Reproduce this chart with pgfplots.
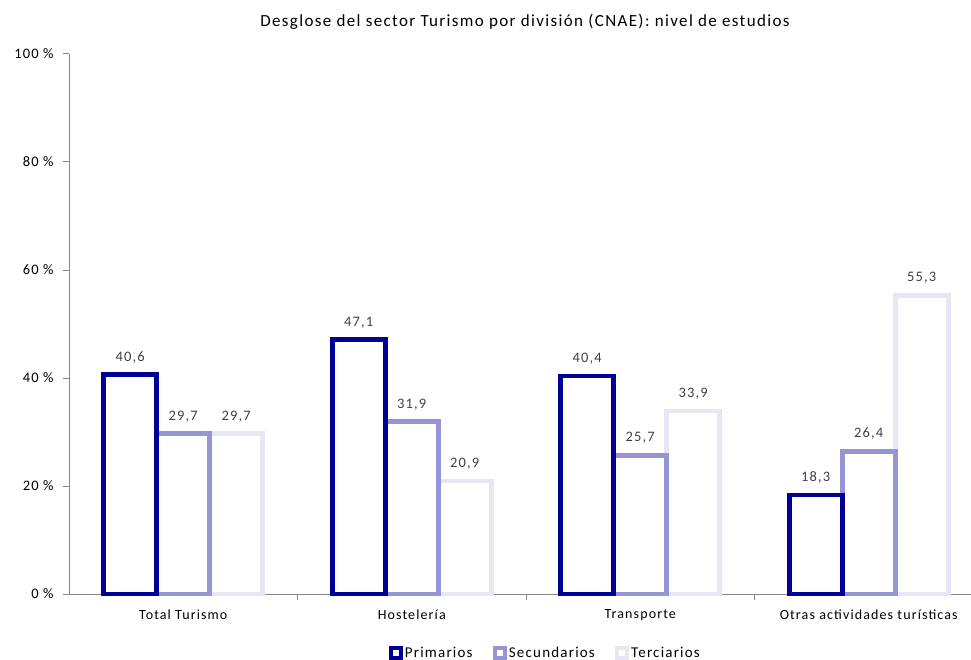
\documentclass[border=0pt]{standalone}
\usepackage{fontspec}
\setmainfont{Carlito}[LetterSpace=8]
\usepackage{pgfplots}
\pgfplotsset{compat=1.18}
\definecolor{prim}{RGB}{0,0,150}
\definecolor{secu}{RGB}{150,150,214}
\definecolor{terc}{RGB}{230,230,245}
\definecolor{axgray}{RGB}{134,134,134}
\definecolor{lblgray}{RGB}{64,64,64}
\begin{document}
\begin{tikzpicture}
\useasboundingbox (0,0) rectangle (971pt,-660pt);
\node[font=\fontsize{17}{19}\selectfont, text=black] at (525pt,-22pt) {Desglose del sector Turismo por división (CNAE): nivel de estudios};
\begin{axis}[
  at={(69pt,-594pt)}, anchor=south west,
  scale only axis, width=902pt, height=540pt,
  xmin=-0.5, xmax=3.4475, ymin=0, ymax=100,
  axis x line*=bottom, axis y line*=left,
  axis line style={axgray, line width=1pt},
  xtick={0,1,2,3},
  xticklabels={Total Turismo, Hostelería, Transporte, Otras actividades turísticas},
  minor xtick={0.5,1.5,2.5},
  major x tick style={draw=none},
  minor x tick style={axgray, line width=1pt},
  minor tick length=6pt,
  ytick={0,20,40,60,80,100},
  yticklabels={0 \%,20 \%,40 \%,60 \%,80 \%,100 \%},
  major y tick style={axgray, line width=1pt},
  major tick length=6pt,
  tick align=outside,
  x tick label style={font=\fontsize{14}{16}\selectfont, text=black, yshift=-6pt},
  y tick label style={font=\fontsize{14.5}{16}\selectfont, text=black, xshift=-6pt},
  /pgf/number format/assume math mode=true,
  /pgf/number format/use comma,
  /pgf/number format/fixed,
  /pgf/number format/fixed zerofill,
  /pgf/number format/precision=1,
  ybar, bar width=53pt,
  every axis plot/.append style={line width=4.6pt, fill=white},
  nodes near coords,
  nodes near coords style={font=\fontsize{14.5}{16}\selectfont, text=lblgray, yshift=6pt},
  legend columns=3, reverse legend,
  legend style={draw=none, at={(0.528,-0.109)}, anchor=center, font=\fontsize{15}{16}\selectfont, /tikz/every even column/.append style={column sep=18pt}},
  legend image code/.code={\draw[#1, line width=4.3pt, fill=white] (0pt,-5pt) rectangle (10pt,5pt);},
  clip=false,
]
\addplot[draw=terc, bar shift=53pt] coordinates {(0,29.7) (1,20.9) (2,33.9) (3,55.3)};
\addplot[draw=secu, bar shift=0pt] coordinates {(0,29.7) (1,31.9) (2,25.7) (3,26.4)};
\addplot[draw=prim, bar shift=-53pt] coordinates {(0,40.6) (1,47.1) (2,40.4) (3,18.3)};
\legend{Terciarios, Secundarios, Primarios}
\end{axis}
\end{tikzpicture}
\end{document}
